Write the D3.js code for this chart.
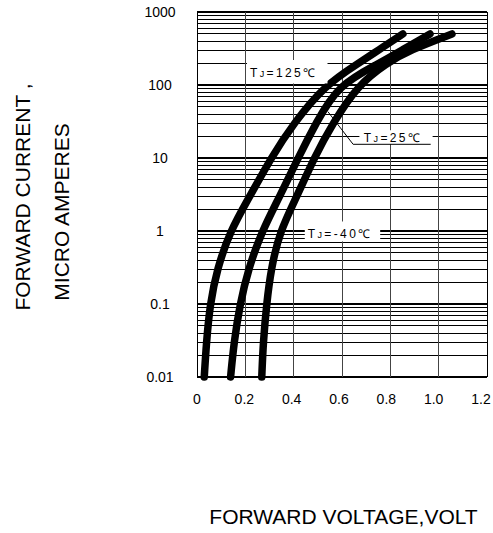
<!DOCTYPE html>
<html>
<head>
<meta charset="utf-8">
<script src="https://cdn.jsdelivr.net/npm/d3@7"></script>
<style>
  html, body { margin: 0; padding: 0; background: #fff; }
  svg { display: block; }
  text { font-family: "Liberation Sans", Arial, sans-serif; fill: #000; }
</style>
</head>
<body>
<svg id="chart" width="493" height="533"></svg>
<script>
// ---- data ----
const currents = [0.01, 0.03, 0.1, 0.3, 1, 3, 10, 30, 100, 200, 300, 500];           // micro amperes
const v125 = [0.030, 0.039, 0.054, 0.083, 0.137, 0.219, 0.306, 0.400, 0.530, 0.669, 0.751, 0.852];
const v25  = [0.139, 0.153, 0.178, 0.212, 0.269, 0.343, 0.418, 0.492, 0.583, 0.757, 0.848, 0.964];
const vm40 = [0.268, 0.274, 0.288, 0.306, 0.343, 0.414, 0.484, 0.562, 0.666, 0.785, 0.880, 1.055];
const xTicks = [0, 0.2, 0.4, 0.6, 0.8, 1.0, 1.2];
const xTickLabels = ["0", "0.2", "0.4", "0.6", "0.8", "1.0", "1.2"];
const yTicks = [0.01, 0.1, 1, 10, 100, 1000];
const yTickLabels = ["0.01", "0.1", "1", "10", "100", "1000"];
const seriesNames = ["125", "25", "-40"];
const xTitle = "FORWARD VOLTAGE,VOLT";
const yTitle1 = "FORWARD CURRENT ,";
const yTitle2 = "MICRO AMPERES";

// ---- layout ----
const svg = d3.select("#chart");
const X0 = 197, X1 = 487, Y0 = 377, Y1 = 12;
const x = d3.scaleLinear().domain([0, 1.2]).range([X0, X1]);
const y = d3.scaleLog().domain([0.01, 1000]).range([Y0, Y1]);

const grid = svg.append("g");
// horizontal log grid lines
const hLines = [];
for (let e = -2; e <= 3; e++) {
  for (let k = 1; k <= 9; k++) {
    const v = k * Math.pow(10, e);
    if (v > 1000 + 1e-9) break;
    hLines.push({ v, major: k === 1 });
  }
}
grid.selectAll("line.h").data(hLines).enter().append("line")
  .attr("x1", X0).attr("x2", X1)
  .attr("y1", d => y(d.v)).attr("y2", d => y(d.v))
  .attr("stroke", "#000")
  .attr("stroke-width", d => d.major ? 1.8 : 1)
  .attr("shape-rendering", "crispEdges");
// vertical lines
grid.selectAll("line.v").data(xTicks).enter().append("line")
  .attr("x1", d => x(d)).attr("x2", d => x(d))
  .attr("y1", Y1).attr("y2", Y0)
  .attr("stroke", d => (d === 0 || d === 1.2) ? "#000" : "#444")
  .attr("stroke-width", 1)
  .attr("shape-rendering", "crispEdges");

// tick labels
svg.append("g").selectAll("text").data(xTicks).enter().append("text")
  .attr("x", d => x(d) - d * 5).attr("y", 404)
  .attr("text-anchor", "middle").attr("font-size", 14)
  .text((d, i) => xTickLabels[i]);
svg.append("g").selectAll("text").data(yTicks).enter().append("text")
  .attr("x", 160).attr("y", d => y(d) + 5)
  .attr("text-anchor", "middle").attr("font-size", 14)
  .text((d, i) => yTickLabels[i]);

// curves
const series = [v125, v25, vm40];
const line = d3.line()
  .x(d => x(d[0])).y(d => y(d[1]))
  .curve(d3.curveBasis);
svg.append("g").selectAll("path").data(series).enter().append("path")
  .attr("d", s => line(s.map((v, i) => [v, currents[i]])))
  .attr("fill", "none").attr("stroke", "#000")
  .attr("stroke-width", 7.5).attr("stroke-linecap", "round").attr("stroke-linejoin", "round");

// annotations
function tjLabel(g, px, py, name) {
  const t = g.append("text").attr("x", px).attr("y", py).attr("font-size", 12).attr("letter-spacing", "2.4px");
  t.append("tspan").text("T");
  t.append("tspan").attr("font-size", 9).text("J");
  t.append("tspan").text("=" + name + "\u2103");
  return t;
}
const ann = svg.append("g");
// 125 label box
ann.append("rect").attr("x", x(0.207)).attr("y", y(220)).attr("width", x(0.540) - x(0.207)).attr("height", y(105) - y(220)).attr("fill", "#fff");
tjLabel(ann, x(0.219), y(128), seriesNames[0]);
// 25 label box, underline and leader
ann.append("rect").attr("x", x(0.672)).attr("y", y(24)).attr("width", x(0.975) - x(0.672)).attr("height", y(15.5) - y(24)).attr("fill", "#fff");
tjLabel(ann, x(0.690), y(16.6), seriesNames[1]);
ann.append("line").attr("x1", x(0.646)).attr("x2", x(0.967)).attr("y1", y(15.4)).attr("y2", y(15.4)).attr("stroke", "#000").attr("stroke-width", 1);
ann.append("line").attr("x1", x(0.646)).attr("y1", y(15.4)).attr("x2", x(0.542)).attr("y2", y(43)).attr("stroke", "#000").attr("stroke-width", 1);
// -40 label box
ann.append("rect").attr("x", x(0.446)).attr("y", y(1.35)).attr("width", x(0.758) - x(0.446)).attr("height", y(0.72) - y(1.35)).attr("fill", "#fff");
tjLabel(ann, x(0.458), y(0.80), seriesNames[2]);

// axis titles
svg.append("text").attr("x", 343.5).attr("y", 524).attr("text-anchor", "middle").attr("font-size", 21).text(xTitle);
svg.append("text").attr("transform", "translate(23,197) rotate(-90)").attr("dy", "0.35em").attr("text-anchor", "middle").attr("font-size", 21).text(yTitle1);
svg.append("text").attr("transform", "translate(62,212) rotate(-90)").attr("dy", "0.35em").attr("text-anchor", "middle").attr("font-size", 21).text(yTitle2);
</script>
</body>
</html>
